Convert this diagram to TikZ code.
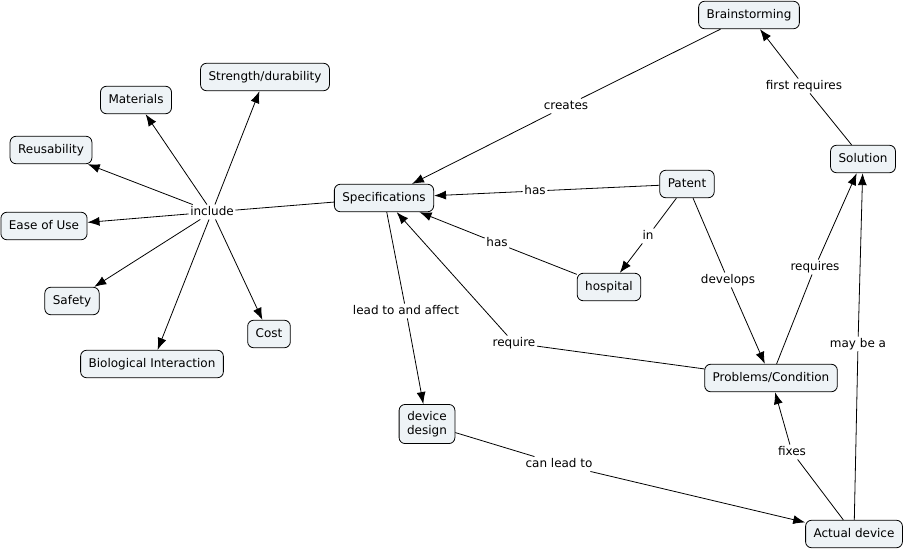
\documentclass[tikz,border=0pt]{standalone}
\usepackage{fontspec}
\setmainfont{DejaVu Sans}
\usepackage{tikz}
\usetikzlibrary{arrows.meta,positioning}
\definecolor{cmapfill}{RGB}{238,243,246}
\tikzset{
  concept/.style={draw=black,fill=cmapfill,rounded corners=6pt,line width=0.8pt,
    inner xsep=8pt,inner ysep=8pt,text height=9pt,text depth=2.5pt,align=center,
    font=\fontsize{12}{13.5}\selectfont},
  linkword/.style={fill=white,inner sep=1.5pt,text height=9pt,text depth=2.5pt,
    font=\fontsize{12}{13.5}\selectfont},
  link/.style={line width=0.8pt},
}
\begin{document}
\begin{tikzpicture}[x=1pt,y=-1pt,>={Latex[length=12pt,width=9pt]}]
  \useasboundingbox[fill=white] (0,0) rectangle (904,549);
  % Begriffe
  \node[concept] (brain)    at (749,15)  {Brainstorming};
  \node[concept] (strength) at (265,77)  {Strength/durability};
  \node[concept] (mat)      at (136,100) {Materials};
  \node[concept] (reuse)    at (51,150)  {Reusability};
  \node[concept] (ease)     at (44,226)  {Ease of Use};
  \node[concept] (safety)   at (72,301)  {Safety};
  \node[concept] (cost)     at (269,334) {Cost};
  \node[concept] (bio)      at (152,364) {Biological Interaction};
  \node[concept] (spec)     at (384,198) {Specifications};
  \node[concept] (patent)   at (687,184) {Patent};
  \node[concept] (hosp)     at (609,287) {hospital};
  \node[concept,text height={},text depth={},inner ysep=7pt] (design) at (427,424) {device\\design};
  \node[concept] (sol)      at (863,159) {Solution};
  \node[concept] (prob)     at (771,378) {Problems/Condition};
  \node[concept] (actual)   at (854,534) {Actual device};
  % Verbindungswoerter
  \node[linkword] (lcreates) at (566,106) {creates};
  \node[linkword] (lfirst)   at (804,86)  {first requires};
  \node[linkword] (lhasp)    at (535,191) {has};
  \node[linkword] (lhash)    at (497,243) {has};
  \node[linkword] (lin)      at (648,236) {in};
  \node[linkword] (lincl)    at (212,212) {include};
  \node[linkword] (llead)    at (406,311) {lead to and affect};
  \node[linkword] (lreq)     at (514,343) {require};
  \node[linkword] (ldev)     at (728,280) {develops};
  \node[linkword] (lreqs)    at (815,267) {requires};
  \node[linkword] (lmay)     at (858,344) {may be a};
  \node[linkword] (lfix)     at (792,452) {fixes};
  \node[linkword] (lcan)     at (559,464) {can lead to};
  % Kanten
  \draw[link] (brain) -- (lcreates);  \draw[link,->] (lcreates) -- (spec);
  \draw[link] (sol) -- (lfirst);      \draw[link,->] (lfirst) -- (brain);
  \draw[link] (patent) -- (lhasp);    \draw[link,->] (lhasp) -- (spec);
  \draw[link] (hosp) -- (lhash);      \draw[link,->] (lhash) -- (spec);
  \draw[link] (patent) -- (lin);      \draw[link,->] (lin) -- (hosp);
  \draw[link] (spec) -- (llead);      \draw[link,->] (llead) -- (design);
  \draw[link] (prob) -- (lreq);       \draw[link,->] (lreq) -- (spec);
  \draw[link] (patent) -- (ldev);     \draw[link,->] (ldev) -- (prob);
  \draw[link] (prob) -- (lreqs);      \draw[link,->] (lreqs) -- (sol);
  \draw[link] (actual) -- (lmay);     \draw[link,->] (lmay) -- (sol);
  \draw[link] (actual) -- (lfix);     \draw[link,->] (lfix) -- (prob);
  \draw[link] (design) -- (lcan);     \draw[link,->] (lcan) -- (actual);
  \draw[link] (spec) -- (lincl);
  \foreach \n in {strength,mat,reuse,ease,safety,cost,bio}
    \draw[link,->] (lincl) -- (\n);
\end{tikzpicture}
\end{document}
